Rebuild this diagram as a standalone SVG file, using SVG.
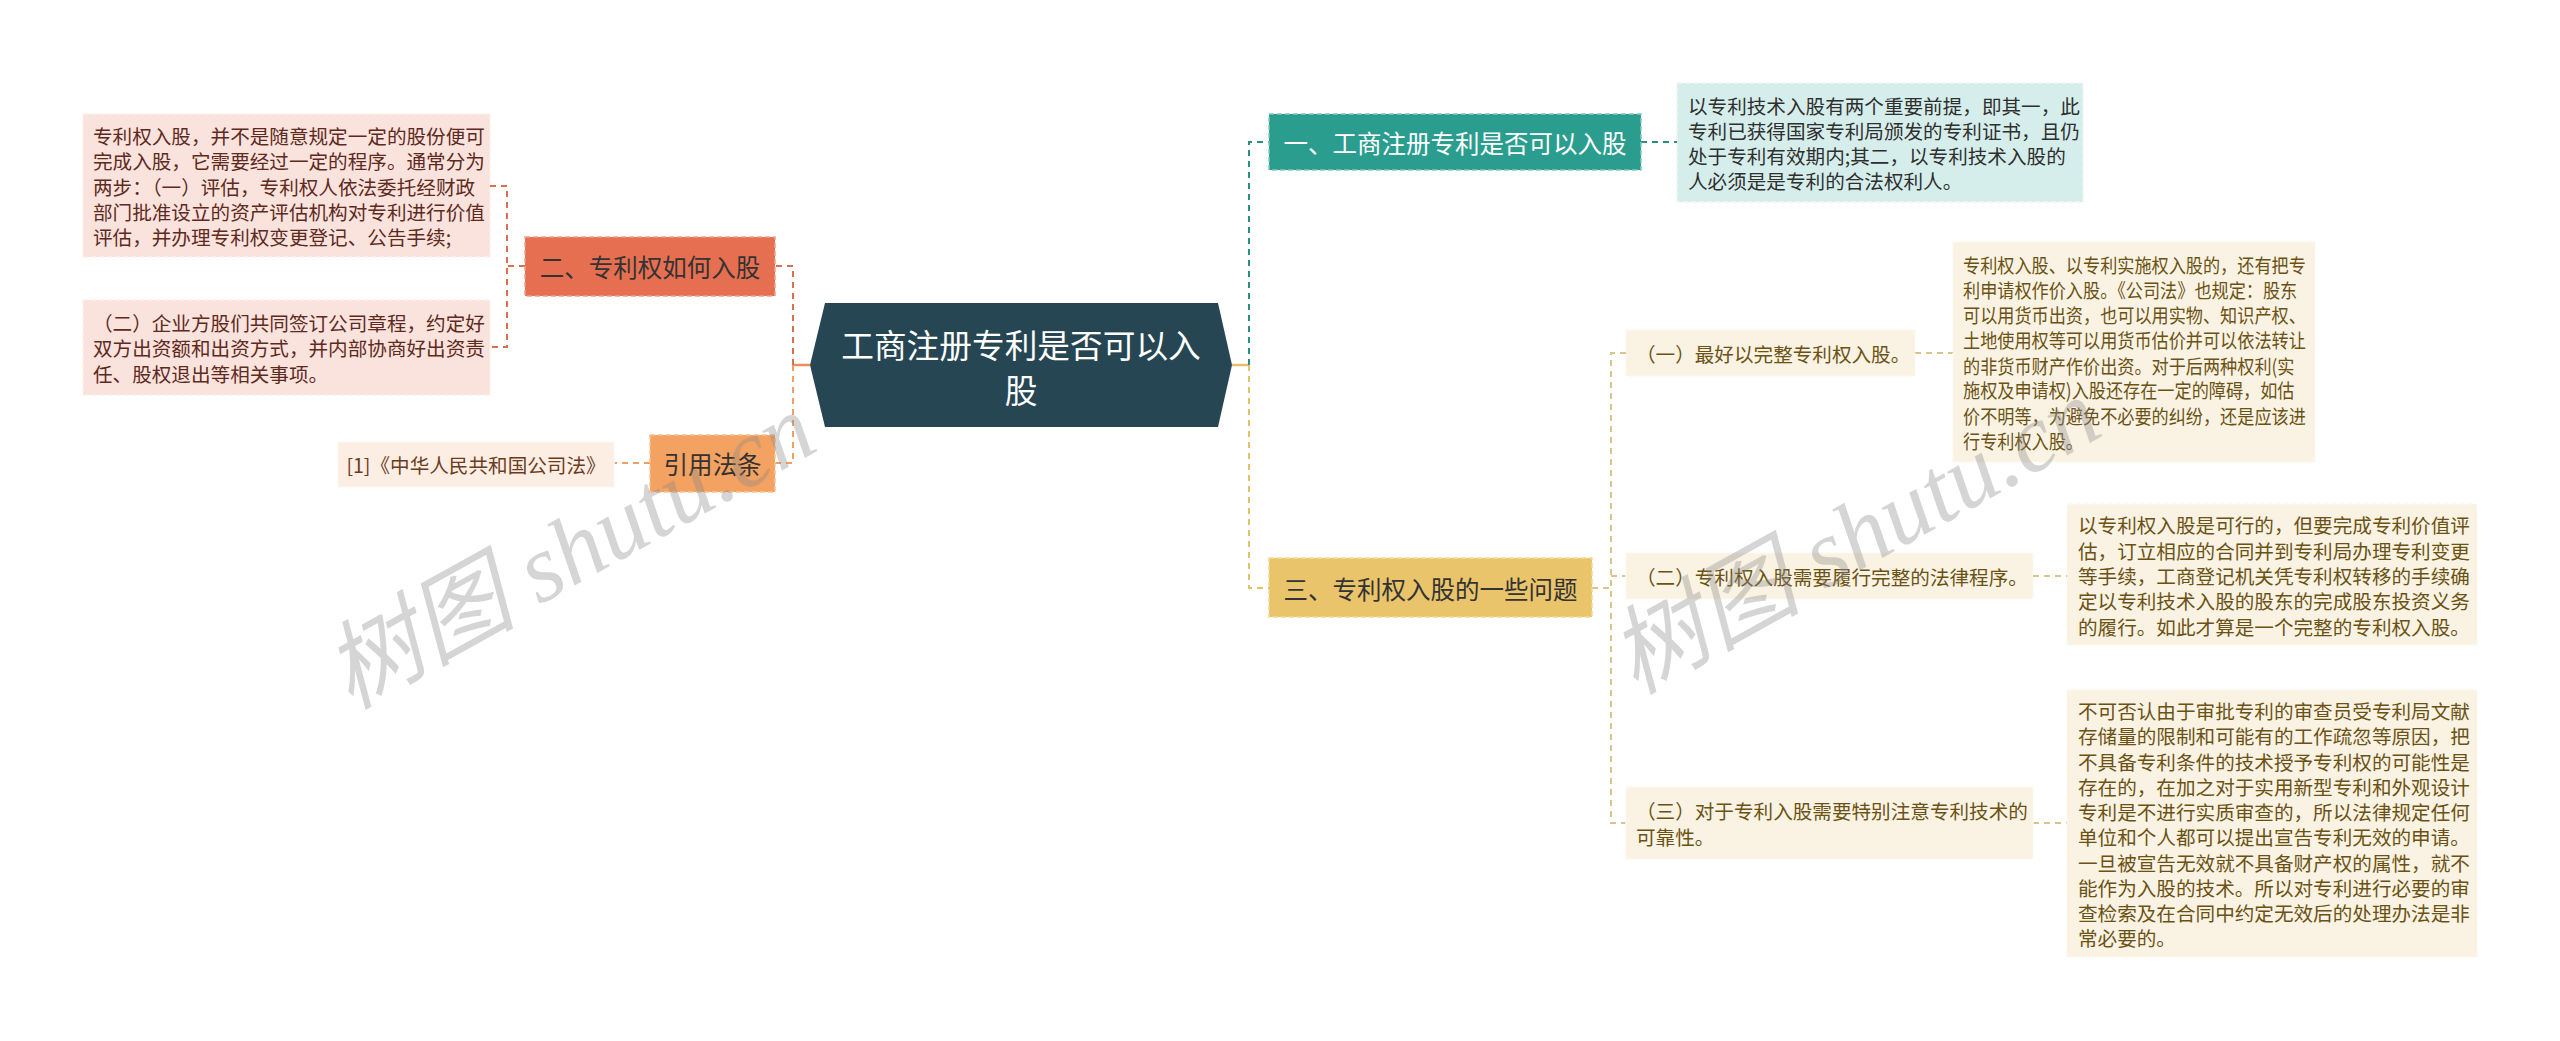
<svg xmlns="http://www.w3.org/2000/svg" width="2560" height="1041" viewBox="0 0 2560 1041">
<style>
text{font-family:"Noto Sans CJK SC","Noto Sans",sans-serif;}
.big{font-size:32.7px;fill:#ffffff;}
.mid{font-size:24.5px;fill:#333333;}
.sm{font-size:19.6px;}
.c{dominant-baseline:central;}
.dl{fill:none;stroke-width:2;stroke-dasharray:6 5;}
.sl{fill:none;stroke-width:2.5;}
.wm{font-family:"Liberation Serif","Noto Sans CJK SC",serif;font-size:96px;fill:#888888;opacity:0.35;font-style:italic;}
</style>
<rect width="2560" height="1041" fill="#ffffff"/>
<g id="connectors">
  <path class="sl" d="M810 365 H793" stroke="#ec8f5c"/>
  <path class="dl" d="M793 365 V266 H775" stroke="#d9704f"/>
  <path class="dl" d="M793 365 V463 H775" stroke="#f0a060"/>
  <path class="dl" d="M525 266 H507" stroke="#d9704f"/>
  <path class="dl" d="M490 186 H507 V347 H490" stroke="#d9704f"/>
  <path class="dl" d="M650 463 H614" stroke="#f0a060"/>
  <path class="sl" d="M1232 365 H1249" stroke="#e3c06a"/>
  <path class="dl" d="M1249 365 V142 H1269" stroke="#2a8f83"/>
  <path class="dl" d="M1249 365 V588 H1269" stroke="#e3c06a"/>
  <path class="dl" d="M1641 142 H1677" stroke="#2a8f83"/>
  <path class="dl" d="M1592 588 H1611" stroke="#d9c48a"/>
  <path class="dl" d="M1626 353 H1611 V823 H1626 M1611 576 H1626" stroke="#d9c48a"/>
  <path class="dl" d="M1915 353 H1953" stroke="#d9c48a"/>
  <path class="dl" d="M2033 576 H2067" stroke="#d9c48a"/>
  <path class="dl" d="M2033 823 H2067" stroke="#d9c48a"/>
</g>
<g id="root">
  <polygon points="825,303 1218,303 1232,365 1218,427 825,427 810,365" fill="#264653"/>
  <text class="big c" x="1021" y="343" text-anchor="middle">工商注册专利是否可以入</text>
  <text class="big c" x="1021" y="388" text-anchor="middle">股</text>
</g>
<g id="n-er">
  <rect x="525" y="237" width="250" height="59" fill="#e76f51" stroke="#f0a08a" stroke-width="1.5" stroke-dasharray="5 3"/>
  <text class="mid c" x="650" y="266" text-anchor="middle">二、专利权如何入股</text>
</g>
<g id="n-er-d1">
  <rect x="83" y="114" width="407" height="143" fill="#fae3dc" stroke="#fdf0ec" stroke-width="1.5" stroke-dasharray="5 3"/>
  <g class="sm c" fill="#5e2a1e">
    <text x="93" y="135">专利权入股，并不是随意规定一定的股份便可</text>
    <text x="93" y="160">完成入股，它需要经过一定的程序。通常分为</text>
    <text x="93" y="186">两步：（一）评估，专利权人依法委托经财政</text>
    <text x="93" y="211">部门批准设立的资产评估机构对专利进行价值</text>
    <text x="93" y="236">评估，并办理专利权变更登记、公告手续;</text>
  </g>
</g>
<g id="n-er-d2">
  <rect x="83" y="300" width="407" height="95" fill="#fae3dc" stroke="#fdf0ec" stroke-width="1.5" stroke-dasharray="5 3"/>
  <g class="sm c" fill="#5e2a1e">
    <text x="93" y="322">（二）企业方股们共同签订公司章程，约定好</text>
    <text x="93" y="347">双方出资额和出资方式，并内部协商好出资责</text>
    <text x="93" y="373">任、股权退出等相关事项。</text>
  </g>
</g>
<g id="n-ref">
  <rect x="650" y="435" width="125" height="57" fill="#f4a261" stroke="#f8c393" stroke-width="1.5" stroke-dasharray="5 3"/>
  <text class="mid c" x="712.5" y="463" text-anchor="middle">引用法条</text>
</g>
<g id="n-ref-d">
  <rect x="338" y="442" width="276" height="45" fill="#fdeee3" stroke="#fef6f0" stroke-width="1.5" stroke-dasharray="5 3"/>
  <text class="sm c" x="476" y="464" text-anchor="middle" fill="#6b3c1e" font-size="18.5">[1]《中华人民共和国公司法》</text>
</g>
<g id="n-yi">
  <rect x="1269" y="114" width="372" height="56" fill="#2a9d8f" stroke="#7fcabe" stroke-width="1.5" stroke-dasharray="5 3"/>
  <text class="mid c" x="1455" y="142" text-anchor="middle" style="fill:#ffffff">一、工商注册专利是否可以入股</text>
</g>
<g id="n-yi-d">
  <rect x="1677" y="83" width="406" height="119" fill="#d6eeeb" stroke="#eef8f6" stroke-width="1.5" stroke-dasharray="5 3"/>
  <g class="sm c" fill="#2f2f2f">
    <text x="1688" y="105">以专利技术入股有两个重要前提，即其一，此</text>
    <text x="1688" y="130">专利已获得国家专利局颁发的专利证书，且仍</text>
    <text x="1688" y="155">处于专利有效期内;其二，以专利技术入股的</text>
    <text x="1688" y="180">人必须是是专利的合法权利人。</text>
  </g>
</g>
<g id="n-san">
  <rect x="1269" y="558" width="323" height="59" fill="#e9c46a" stroke="#f2d993" stroke-width="1.5" stroke-dasharray="5 3"/>
  <text class="mid c" x="1430.5" y="588" text-anchor="middle">三、专利权入股的一些问题</text>
</g>
<g id="n-san-1">
  <rect x="1626" y="330" width="289" height="46" fill="#faf3e3" stroke="#fdf9f0" stroke-width="1.5" stroke-dasharray="5 3"/>
  <text class="sm c" x="1636" y="353" fill="#6b5214">（一）最好以完整专利权入股。</text>
</g>
<g id="n-san-1-d">
  <rect x="1953" y="242" width="362" height="220" fill="#faf3e3" stroke="#fdf9f0" stroke-width="1.5" stroke-dasharray="5 3"/>
  <g class="sm c" fill="#6b5214" transform="translate(1963 0) scale(0.875 1)">
    <text x="0" y="264">专利权入股、以专利实施权入股的，还有把专</text>
    <text x="0" y="289">利申请权作价入股。《公司法》也规定：股东</text>
    <text x="0" y="314">可以用货币出资，也可以用实物、知识产权、</text>
    <text x="0" y="339">土地使用权等可以用货币估价并可以依法转让</text>
    <text x="0" y="365">的非货币财产作价出资。对于后两种权利(实</text>
    <text x="0" y="390">施权及申请权)入股还存在一定的障碍，如估</text>
    <text x="0" y="415">价不明等，为避免不必要的纠纷，还是应该进</text>
    <text x="0" y="440">行专利权入股。</text>
  </g>
</g>
<g id="n-san-2">
  <rect x="1626" y="553" width="407" height="46" fill="#faf3e3" stroke="#fdf9f0" stroke-width="1.5" stroke-dasharray="5 3"/>
  <text class="sm c" x="1636" y="576" fill="#6b5214" font-size="19">（二）专利权入股需要履行完整的法律程序。</text>
</g>
<g id="n-san-2-d">
  <rect x="2067" y="504" width="410" height="141" fill="#faf3e3" stroke="#fdf9f0" stroke-width="1.5" stroke-dasharray="5 3"/>
  <g class="sm c" fill="#6b5214">
    <text x="2078" y="524">以专利权入股是可行的，但要完成专利价值评</text>
    <text x="2078" y="550">估，订立相应的合同并到专利局办理专利变更</text>
    <text x="2078" y="575">等手续，工商登记机关凭专利权转移的手续确</text>
    <text x="2078" y="600">定以专利技术入股的股东的完成股东投资义务</text>
    <text x="2078" y="626">的履行。如此才算是一个完整的专利权入股。</text>
  </g>
</g>
<g id="n-san-3">
  <rect x="1626" y="787" width="407" height="72" fill="#faf3e3" stroke="#fdf9f0" stroke-width="1.5" stroke-dasharray="5 3"/>
  <g class="sm c" fill="#6b5214" font-size="19">
    <text x="1636" y="810">（三）对于专利入股需要特别注意专利技术的</text>
    <text x="1636" y="836">可靠性。</text>
  </g>
</g>
<g id="n-san-3-d">
  <rect x="2067" y="690" width="410" height="267" fill="#faf3e3" stroke="#fdf9f0" stroke-width="1.5" stroke-dasharray="5 3"/>
  <g class="sm c" fill="#6b5214">
    <text x="2078" y="710">不可否认由于审批专利的审查员受专利局文献</text>
    <text x="2078" y="735">存储量的限制和可能有的工作疏忽等原因，把</text>
    <text x="2078" y="761">不具备专利条件的技术授予专利权的可能性是</text>
    <text x="2078" y="786">存在的，在加之对于实用新型专利和外观设计</text>
    <text x="2078" y="811">专利是不进行实质审查的，所以法律规定任何</text>
    <text x="2078" y="836">单位和个人都可以提出宣告专利无效的申请。</text>
    <text x="2078" y="862">一旦被宣告无效就不具备财产权的属性，就不</text>
    <text x="2078" y="887">能作为入股的技术。所以对专利进行必要的审</text>
    <text x="2078" y="912">查检索及在合同中约定无效后的处理办法是非</text>
    <text x="2078" y="937">常必要的。</text>
  </g>
</g>
<g id="watermark">
  <text class="wm" transform="translate(350 710) rotate(-29)">树图 shutu.cn</text>
  <text class="wm" transform="translate(1635 695) rotate(-29)">树图 shutu.cn</text>
</g>
</svg>
